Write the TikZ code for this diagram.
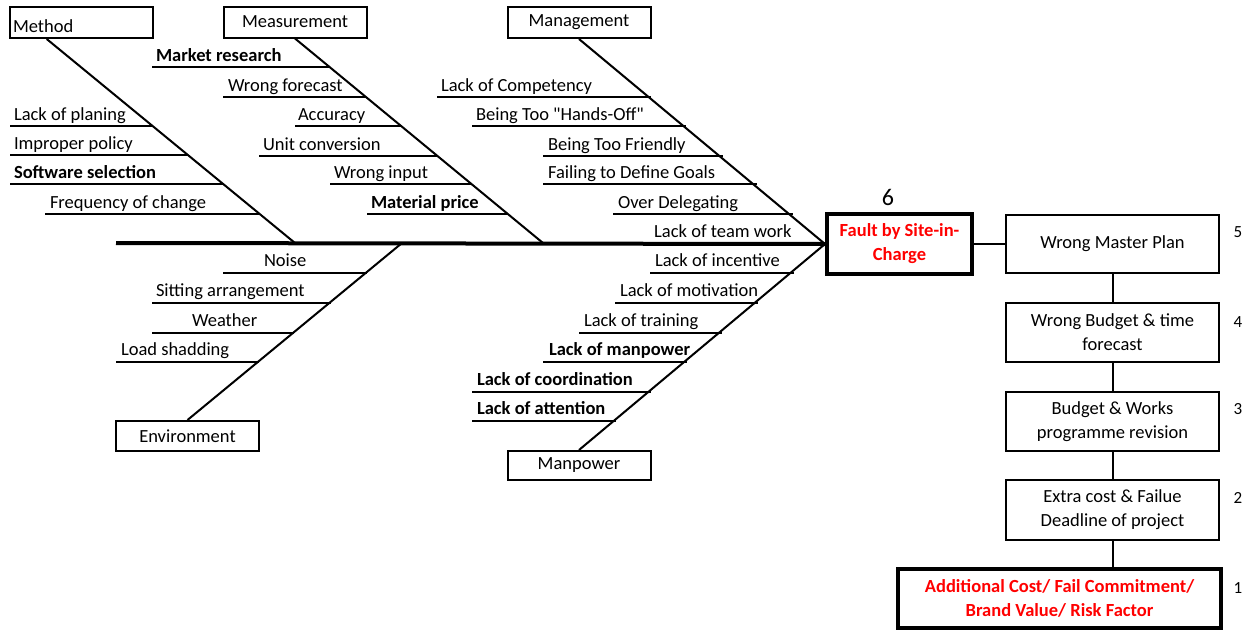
\documentclass[tikz,border=0pt]{standalone}
\usepackage{fontspec}
\setmainfont{Carlito}[Ligatures=TeXOff]
\usetikzlibrary{calc,positioning}

\begin{document}
\begin{tikzpicture}[x=1pt,y=-1pt,
  font=\fontsize{18.5}{24}\selectfont,
  catbox/.style={draw,line width=2pt,minimum width=143pt,minimum height=31pt,inner sep=0pt},
  stepbox/.style={draw,line width=2pt,minimum width=213pt,minimum height=59pt,align=center,inner sep=0pt},
  redbox/.style={draw,line width=4pt,minimum height=59pt,align=center,inner sep=0pt,text=red,font=\fontsize{18.5}{24}\selectfont\bfseries},
  bone/.style={line width=2pt},
  spine/.style={line width=4pt},
  cause/.style={anchor=base west,inner sep=0pt},
  keycause/.style={cause,font=\fontsize{18.5}{24}\selectfont\bfseries},
  num/.style={inner sep=0pt,font=\fontsize{17}{20}\selectfont}]
\useasboundingbox (0,0) rectangle (1256,630);

\node[catbox,inner xsep=3pt,text width=137pt,align=left,text height=20pt,text depth=0pt] (method) at (81.5,22.5) {Method};
\node[catbox] (measure) at (295,22) {Measurement};
\node[catbox] (manage) at (579,22.5) {Management};
\node[catbox,minimum height=30pt] (environ) at (187.5,436) {Environment};
\node[catbox,minimum height=29pt] (manpower) at (579,465.5) {Manpower};

\node[redbox,minimum width=145pt,minimum height=60pt] (fault) at (899.5,244) {Fault by Site-in-\\Charge};
\node[stepbox,minimum height=58pt] (master) at (1112.5,244) {Wrong Master Plan};
\node[stepbox] (budget) at (1112.5,332.5) {Wrong Budget \& time\\forecast};
\node[stepbox] (works) at (1112.5,421.5) {Budget \& Works\\programme revision};
\node[stepbox,minimum height=60pt] (extra) at (1112.5,510) {Extra cost \& Failue\\Deadline of project};
\node[redbox,minimum width=323pt] (addcost) at (1059.5,598.5) {Additional Cost/ Fail Commitment/\\Brand Value/ Risk Factor};

\node[inner sep=0pt,font=\fontsize{24}{28}\selectfont] (n6) at (888,197) {6};
\node[num] (n5) at (1238,232) {5};
\node[num] (n4) at (1238,322) {4};
\node[num] (n3) at (1238,409) {3};
\node[num] (n2) at (1238,498) {2};
\node[num] (n1) at (1238,588) {1};

\coordinate (tail) at (116,243);
\coordinate (jmeth) at (295,243);
\coordinate (jmeas) at (543,243);
\coordinate (jenv) at (402,243);

\draw[spine] (tail) -- (fault.west);
\draw[bone] ($(method.south west)!0.26!(method.south east)$) -- (jmeth);
\draw[bone] (measure.south) -- (jmeas);
\draw[bone] (manage.south) -- (fault.west);
\draw[bone] (environ.north) -- (jenv);
\draw[bone] (manpower.north) -- (fault.west);

\draw[bone] (fault.east) -- (master.west);
\draw[bone] (master.south) -- (budget.north);
\draw[bone] (budget.south) -- (works.north);
\draw[bone] (works.south) -- (extra.north);
\draw[bone] (extra.south) -- (extra.south |- addcost.north);

\draw[bone] (10,126) -- (153,126) node[cause] (planing) at (13,120) {Lack of planing};
\draw[bone] (10,155) -- (188,155) node[cause] (policy) at (13,149) {Improper policy};
\draw[bone] (10,184) -- (224,184) node[keycause] (software) at (13,178) {Software selection};
\draw[bone] (45,214) -- (260,214) node[cause] (frequency) at (49,208) {Frequency of change};

\draw[bone] (152,67) -- (330,67) node[keycause] (market) at (155,61) {Market research};
\draw[bone] (223,97) -- (366,97) node[cause] (forecast) at (227,91) {Wrong forecast};
\draw[bone] (295,126) -- (401,126) node[cause] (accuracy) at (297,120) {Accuracy};
\draw[bone] (259,156) -- (438,156) node[cause] (unit) at (262,150) {Unit conversion};
\draw[bone] (330,184) -- (472,184) node[cause] (input) at (333,178) {Wrong input};
\draw[bone] (367,214) -- (508,214) node[keycause] (price) at (370,208) {Material price};

\draw[bone] (437,97) -- (651,97) node[cause] (competency) at (440,91) {Lack of Competency};
\draw[bone] (472,126) -- (686,126) node[cause] (handsoff) at (475,120) {Being Too "Hands-Off"};
\draw[bone] (543,156) -- (723,156) node[cause] (friendly) at (547,150) {Being Too Friendly};
\draw[bone] (543,184) -- (757,184) node[cause] (goals) at (547,178) {Failing to Define Goals};
\draw[bone] (613,214) -- (793,214) node[cause] (delegating) at (617,208) {Over Delegating};
\node[cause] (teamwork) at (654,237) {Lack of team work};

\draw[bone] (223,273) -- (367,273) node[cause] (noise) at (263,266) {Noise};
\draw[bone] (152,303) -- (331,303) node[cause] (sitting) at (155,296) {Sitting arrangement};
\draw[bone] (152,333) -- (294,333) node[cause] (weather) at (191,326) {Weather};
\draw[bone] (116,362) -- (259,362) node[cause] (load) at (120,355) {Load shadding};

\draw[bone] (650,273) -- (794,273) node[cause] (incentive) at (654,266) {Lack of incentive};
\draw[bone] (615,303) -- (758,303) node[cause] (motivation) at (619,296) {Lack of motivation};
\draw[bone] (579,333) -- (722,333) node[cause] (training) at (583,326) {Lack of training};
\draw[bone] (543,362) -- (687,362) node[keycause] (lackmp) at (548,355) {Lack of manpower};
\draw[bone] (472,392) -- (651,392) node[keycause] (coordination) at (476,385) {Lack of coordination};
\draw[bone] (472,421) -- (616,421) node[keycause] (attention) at (476,414) {Lack of attention};
\end{tikzpicture}
\end{document}
